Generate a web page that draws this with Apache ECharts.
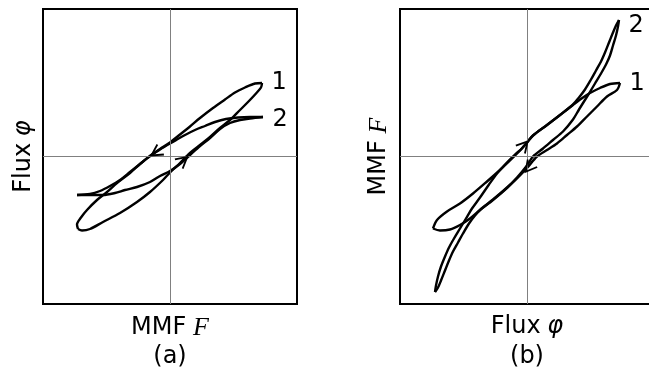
<!DOCTYPE html>
<html><head><meta charset="utf-8">
<script src="https://cdn.jsdelivr.net/npm/echarts@6/dist/echarts.min.js"></script>
<style>html,body{margin:0;padding:0;background:#fff}#c{width:649px;height:379px}</style>
</head><body><div id="c"></div>
<script>
// Panel (a): x = MMF F, y = Flux phi (arbitrary units, origin at centre)
const aLoop1Upper = [[92,73.5],[85,73],[75,69],[65,64],[55,57],[43,48.5],[30,38.5],[20,30],[10,22],[0,14],[-10,7.5],[-20,0.5],[-30,-7.5],[-40,-16.5],[-53,-26.5],[-63,-35.5],[-73,-43.5],[-83,-53.5],[-89,-61],[-93,-68],[-92,-72.5]];
const aLoop1Lower = [[-92,-72.5],[-88,-74],[-80,-72.5],[-67,-65.5],[-50,-56.5],[-33,-45.5],[-20,-35.5],[-7,-23.5],[0,-16],[10,-6.5],[20,3.5],[30,11.5],[40,19.5],[50,28.5],[60,36.5],[70,46.5],[78,54.5],[86,63],[91,69],[92,73.5]];
const aLoop2Upper = [[93,39.5],[80,39.5],[68,39],[56,37.5],[45,34.5],[35,30.5],[25,26.5],[15,21.5],[7,17],[0,13],[-10,7],[-20,0.5],[-30,-7.5],[-40,-15.5],[-50,-23.5],[-60,-29.5],[-70,-34.5],[-80,-37.5],[-93,-38.5]];
const aLoop2Lower = [[-93,-38.5],[-80,-38.5],[-67,-38.5],[-55,-36.5],[-45,-33.5],[-33,-30.5],[-20,-25.5],[-10,-19.5],[0,-14.5],[10,-7.5],[20,1.5],[30,10.5],[40,18.5],[50,27.5],[60,33.5],[70,36.5],[80,38],[93,39.5]];
// Panel (b): x = Flux phi, y = MMF F
const bLoop1Upper = [[-94,-72],[-90,-63.5],[-80,-55],[-67,-47],[-54,-37],[-40,-25],[-27,-13.5],[-17,-4],[-7,6],[0,14],[6,21],[20,31.5],[33,41.5],[46,51.5],[56,59],[63,63.5],[73,68.5],[83,72.5],[93,73.5]];
const bLoop1Lower = [[93,73.5],[90,66.5],[80,60],[70,50],[60,40],[50,30],[40,21.5],[30,13],[20,6.5],[10,0],[0,-11.5],[-10,-22],[-20,-31.5],[-34,-43.5],[-47,-53.5],[-57,-62],[-67,-68.5],[-77,-73],[-87,-74],[-94,-72]];
const bLoop2Upper = [[-92,-135.5],[-91,-129],[-89,-120],[-86,-110],[-82,-100],[-78,-91],[-73,-82],[-67,-72],[-61,-62],[-55,-52],[-47,-41],[-38,-28],[-30,-17],[-22,-8],[-12,2],[-5,8],[0,14],[6,21],[20,31.5],[33,41.5],[46,52],[52,59],[58,67],[64,77],[69,86],[74,95],[78,104],[82,114],[86,124],[89,131],[92,136.5]];
const bLoop2Lower = [[92,136.5],[91,130],[89,121],[86,111],[83,101],[79,92],[74,83],[68,73],[62,63],[57,55],[52,47],[46,37],[36,25],[26,16.5],[16,8],[6,0],[0,-9],[-10,-21],[-20,-31],[-34,-43],[-46,-52.5],[-52,-59],[-58,-67],[-64,-77],[-69,-86],[-74,-95],[-78,-104],[-82,-114],[-86,-124],[-89,-131],[-92,-135.5]];
// Direction arrows: [x, y, rotation in degrees]
const aArrows = [[-14,4,123],[13,-4,-50]];
const bArrows = [[-3,11,-41],[2,-11,141]];
const loopLabels = ['1','2'];

const FONT = 'DejaVu Sans';
const FS = 24;
const chart = echarts.init(document.getElementById('c'));

function line(data, gi, extra) {
  return Object.assign({
    type: 'line', xAxisIndex: gi, yAxisIndex: gi, data: data,
    symbol: 'none', showSymbol: false, smooth: 0.3, silent: true,
    lineStyle: { color: '#000', width: 2.4 }, z: 3
  }, extra || {});
}
function arrows(list) {
  return {
    symbol: 'path://M0,10L5,0L10,10', symbolSize: [12, 11], silent: true,
    itemStyle: { color: 'none', borderColor: '#000', borderWidth: 1.8 },
    label: { show: false },
    data: list.map(a => ({ coord: [a[0], a[1]], symbolRotate: a[2] }))
  };
}
function tipLabel(pt, txt, dy) {
  return {
    symbol: 'circle', symbolSize: 1, silent: true,
    itemStyle: { color: 'rgba(0,0,0,0)' },
    label: { show: true, position: 'right', distance: 9, offset: [0, dy], formatter: txt,
             color: '#000', fontSize: FS, fontFamily: FONT },
    data: [{ coord: pt }]
  };
}
const centreLines = {
  silent: true, symbol: 'none', label: { show: false },
  lineStyle: { color: '#808080', width: 1, type: 'solid' },
  data: [{ xAxis: 0 }, { yAxis: 0 }]
};
const rich = {
  t: { fontFamily: FONT, fontSize: FS, color: '#000' },
  i: { fontFamily: 'Liberation Serif', fontStyle: 'italic', fontSize: FS + 2, color: '#000' },
  g: { fontFamily: FONT, fontStyle: 'italic', fontSize: FS, color: '#000' }
};
function axis(gi, min, max, name, gap) {
  return {
    gridIndex: gi, type: 'value', min: min, max: max,
    axisLine: { show: false, onZero: false }, axisTick: { show: false },
    axisLabel: { show: false }, splitLine: { show: false },
    name: name, nameLocation: 'middle', nameGap: gap,
    nameTextStyle: { rich: rich }
  };
}

chart.setOption({
  animation: false,
  backgroundColor: '#fff',
  grid: [
    { left: 43, top: 9, width: 254, height: 295, show: true, borderColor: '#000', borderWidth: 2, backgroundColor: 'transparent', outerBoundsMode: 'none', containLabel: false },
    { left: 400, top: 9, width: 254, height: 295, show: true, borderColor: '#000', borderWidth: 2, backgroundColor: 'transparent', outerBoundsMode: 'none', containLabel: false }
  ],
  xAxis: [
    axis(0, -127, 127, '{t|MMF}  {i|F}', 11),
    axis(1, -127, 127, '{t|Flux}  {g|φ}', 11)
  ],
  yAxis: [
    axis(0, -147.5, 147.5, '{t|Flux}  {g|φ}', 7),
    axis(1, -147.5, 147.5, '{t|MMF}  {i|F}', 8)
  ],
  graphic: [
    { type: 'text', x: 170, y: 357, style: { text: '(a)', font: FS + 'px ' + FONT, fill: '#000', align: 'center', verticalAlign: 'middle' } },
    { type: 'text', x: 527, y: 357, style: { text: '(b)', font: FS + 'px ' + FONT, fill: '#000', align: 'center', verticalAlign: 'middle' } }
  ],
  series: [
    line(aLoop1Upper, 0, { markLine: centreLines, markPoint: tipLabel(aLoop1Upper[0], loopLabels[0], 0) }),
    line(aLoop1Lower, 0, { markPoint: arrows(aArrows) }),
    line(aLoop2Upper, 0, { markPoint: tipLabel(aLoop2Upper[0], loopLabels[1], 3) }),
    line(aLoop2Lower, 0),
    line(bLoop1Upper, 1, { markLine: centreLines, markPoint: tipLabel(bLoop1Upper[bLoop1Upper.length - 1], loopLabels[0], 1) }),
    line(bLoop1Lower, 1, { markPoint: arrows(bArrows) }),
    line(bLoop2Upper, 1, { markPoint: tipLabel(bLoop2Upper[bLoop2Upper.length - 1], loopLabels[1], 6) }),
    line(bLoop2Lower, 1)
  ]
});
</script></body></html>
